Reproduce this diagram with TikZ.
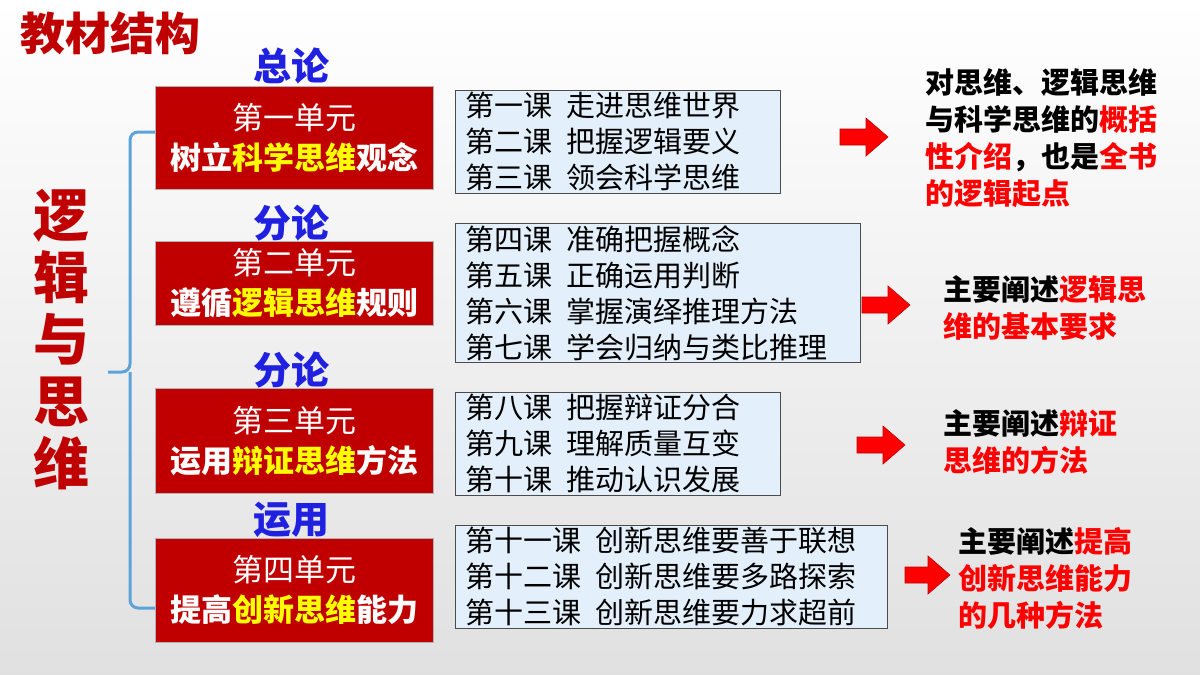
\documentclass[tikz,border=0pt]{standalone}
\usepackage{fontspec}
\setmainfont{Noto Sans CJK SC}
\definecolor{dred}{HTML}{C00000}
\definecolor{rred}{HTML}{FF0000}
\definecolor{bblue}{HTML}{2020E0}
\definecolor{lblue}{HTML}{E3F0FB}
\definecolor{yel}{HTML}{FFFF00}
\definecolor{brace}{HTML}{5BA3D9}
\newcommand{\gp}{\hspace{14pt}}
\begin{document}
\begin{tikzpicture}[x=1pt,y=-1pt,
 unit/.style={draw=gray!60,fill=dred,text=white,minimum width=278pt,align=center,font=\fontsize{31}{40}\selectfont,inner sep=0pt},
 lesson/.style={draw=black!70,fill=lblue,anchor=north west,align=left,font=\fontsize{29}{36}\selectfont,inner xsep=10pt,inner ysep=2pt},
 tag/.style={text=bblue,font=\fontsize{38}{38}\selectfont\bfseries},
 rarrow/.style={fill=rred,draw=dred,line width=0.6pt},
 note/.style={anchor=west,align=left,font=\fontsize{29}{37}\selectfont\bfseries}]
\shade[top color=white,bottom color=black!12] (0,0) rectangle (1200,675);
\useasboundingbox (0,0) rectangle (1200,675);
\node[text=dred,font=\fontsize{45}{45}\selectfont\bfseries,anchor=west,inner sep=0pt] (title) at (20,33) {教材结构};
\node[text=dred,font=\fontsize{56}{62}\selectfont\bfseries,align=center] (main) at (62,340) {逻\\辑\\与\\思\\维};
\coordinate (b1) at (155,132); \coordinate (b4) at (155,608);
\draw[brace,line width=3pt,rounded corners=8pt] (b1) -- (130,132) -- (130,372) -- (108,372);
\draw[brace,line width=3pt,rounded corners=8pt] (b4) -- (130,608) -- (130,372);
\node[unit,minimum height=103pt] (u1) at (294,138) {第一单元\\\textbf{树立\textcolor{yel}{科学思维}观念}};
\node[unit,minimum height=84pt] (u2) at (294,283) {第二单元\\\textbf{遵循\textcolor{yel}{逻辑思维}规则}};
\node[unit,minimum height=105pt] (u3) at (294,441) {第三单元\\\textbf{运用\textcolor{yel}{辩证思维}方法}};
\node[unit,minimum height=104pt] (u4) at (294,590) {第四单元\\\textbf{提高\textcolor{yel}{创新思维}能力}};
\node[tag] (t1) at (291,66) {总论};
\node[tag] (t2) at (291,223) {分论};
\node[tag] (t3) at (291,370) {分论};
\node[tag] (t4) at (291,520) {运用};
\node[lesson,text width=305pt] (l1) at (455,90) {第一课\gp 走进思维世界\\第二课\gp 把握逻辑要义\\第三课\gp 领会科学思维};
\node[lesson,text width=385pt] (l2) at (455,223) {第四课\gp 准确把握概念\\第五课\gp 正确运用判断\\第六课\gp 掌握演绎推理方法\\第七课\gp 学会归纳与类比推理};
\node[lesson,text width=305pt] (l3) at (455,392) {第八课\gp 把握辩证分合\\第九课\gp 理解质量互变\\第十课\gp 推动认识发展};
\node[lesson,text width=412pt] (l4) at (455,525) {第十一课\gp 创新思维要善于联想\\第十二课\gp 创新思维要多路探索\\第十三课\gp 创新思维要力求超前};
\foreach \n/\x/\y/\w in {a1/840/137/48,a2/862/305/48,a3/857/445/48,a4/905/575/45}{
 \draw[rarrow] (\x,\y-8) -- (\x+\w-22,\y-8) -- (\x+\w-22,\y-19) -- (\x+\w,\y) -- (\x+\w-22,\y+19) -- (\x+\w-22,\y+8) -- (\x,\y+8) -- cycle;
 \coordinate (\n) at (\x,\y);}
\node[note] (n1) at (922,138) {对思维、逻辑思维\\与科学思维的\textcolor{rred}{概括}\\\textcolor{rred}{性介绍}，也是\textcolor{rred}{全书}\\\textcolor{rred}{的逻辑起点}};
\node[note] (n2) at (940,308) {主要阐述\textcolor{rred}{逻辑思}\\\textcolor{rred}{维的基本要求}};
\node[note] (n3) at (940,442) {主要阐述\textcolor{rred}{辩证}\\\textcolor{rred}{思维的方法}};
\node[note] (n4) at (955,578) {主要阐述\textcolor{rred}{提高}\\\textcolor{rred}{创新思维能力}\\\textcolor{rred}{的几种方法}};
\end{tikzpicture}
\end{document}
